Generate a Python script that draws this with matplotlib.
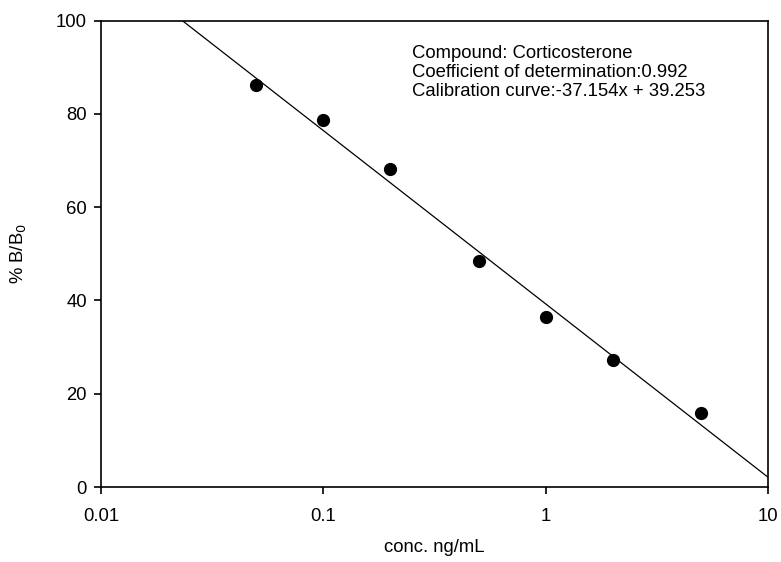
import numpy as np
import matplotlib
matplotlib.use("Agg")
import matplotlib.pyplot as plt

plt.rcParams['font.family'] = ['Liberation Sans', 'DejaVu Sans']

conc = [0.05, 0.1, 0.2, 0.5, 1, 2, 5]
bb0 = [86.2, 78.7, 68.2, 48.4, 36.5, 27.2, 15.9]
slope = -37.154
intercept = 39.253
xticks = [0.01, 0.1, 1, 10]
xticklabels = ["0.01", "0.1", "1", "10"]
yticks = [0, 20, 40, 60, 80, 100]
annot = ["Compound: Corticosterone",
         "Coefficient of determination:0.992",
         "Calibration curve:-37.154x + 39.253"]

fig = plt.figure(figsize=(7.81, 5.62), dpi=100)
W, H = 781, 562
left, right, top, bottom = 101, 768, 20.5, 487
ax = fig.add_axes([left / W, 1 - bottom / H, (right - left) / W, (bottom - top) / H])

xs = np.array([0.01, 10])
ax.plot(xs, slope * np.log10(xs) + intercept, color='black', lw=0.9)
ax.plot(conc, bb0, 'o', color='black', ms=8.5, zorder=3)

ax.set_xscale('log')
ax.set_xlim(0.01, 10)
ax.set_ylim(0, 100)
ax.set_xticks(xticks)
ax.set_xticklabels(xticklabels)
ax.xaxis.set_minor_locator(matplotlib.ticker.NullLocator())
ax.set_yticks(yticks)
ax.tick_params(direction='out', length=5, width=1.2, labelsize=13.3, pad=10)
ax.tick_params(axis='y', pad=5)
for s in ax.spines.values():
    s.set_linewidth(1.2)

ax.set_xlabel("conc. ng/mL", fontsize=13.3, labelpad=10)
ax.set_ylabel("% B/B$_0$", fontsize=13.3, labelpad=20)

ax.text(0.466, 0.948, "\n".join(annot), transform=ax.transAxes, fontsize=13.3,
        va='top', ha='left', linespacing=1.15)

fig.savefig("out.png", dpi=100)
